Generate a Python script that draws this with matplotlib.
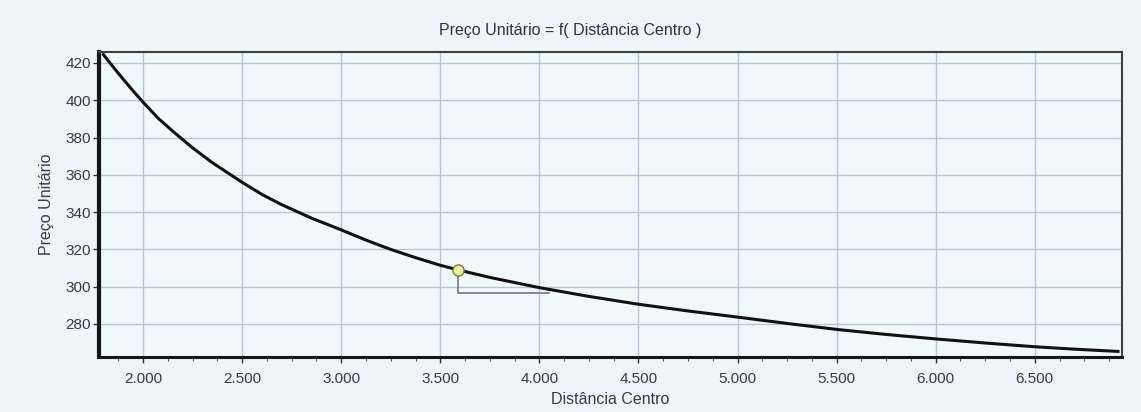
import matplotlib as mpl
import matplotlib.pyplot as plt
from matplotlib.ticker import FuncFormatter, MultipleLocator

# Valores
distancia = [1800, 1850, 1900, 1950, 2000, 2080, 2160, 2250, 2350, 2500,
             2600, 2700, 2850, 3000, 3125, 3250, 3375, 3500, 3590, 3750,
             4000, 4250, 4500, 4750, 5000, 5250, 5500, 5750, 6000, 6250,
             6500, 6700, 6920]
preco = [424.5, 417.8, 411.3, 405.0, 399.0, 390.0, 382.5, 374.5, 366.5, 356.0,
         349.5, 344.0, 336.8, 330.5, 325.0, 320.0, 315.6, 311.5, 309.0, 305.0,
         299.5, 294.8, 290.6, 287.0, 283.7, 280.3, 277.1, 274.4, 272.0, 269.8,
         267.8, 266.5, 265.3]

ponto_x = [3590]
ponto_y = [309.0]
cursor_x = [3590, 3590, 4050]
cursor_y = [309.0, 296.6, 296.6]

y_ticks = [280, 300, 320, 340, 360, 380, 400, 420]
x_ticks = [2000, 2500, 3000, 3500, 4000, 4500, 5000, 5500, 6000, 6500]

mpl.rcParams.update({
    'font.family': ['Liberation Sans', 'DejaVu Sans'],
    'font.size': 11,
})

fig = plt.figure(figsize=(11.41, 4.12), dpi=100)
fig.patch.set_facecolor('#eef5f6')
ax = fig.add_axes([0.0868, 0.1335, 0.8965, 0.7403])
ax.set_facecolor('#f1f8fa')

ax.plot(distancia, preco, color='#111111', lw=2.2, zorder=3)
ax.plot(cursor_x, cursor_y, color='#6a6a7a', lw=1.1, zorder=2)
ax.plot(ponto_x, ponto_y, marker='o', ms=8, mfc='#eeeea0', mec='#7a7a40',
        mew=1.0, ls='none', zorder=4)

ax.set_xlim(1778, 6940)
ax.set_ylim(262.3, 425.9)
ax.set_xticks(x_ticks)
ax.set_yticks(y_ticks)
ax.xaxis.set_minor_locator(MultipleLocator(125))
ax.xaxis.set_major_formatter(FuncFormatter(lambda v, p: f"{v:,.0f}".replace(',', '.')))

ax.grid(True, which='major', color='#b4c8d4', lw=1.0)
ax.set_axisbelow(True)

ax.tick_params(axis='both', which='major', length=4, width=1.0, color='#333333',
               labelcolor='#3a3a4a', labelsize=11)
ax.tick_params(axis='x', which='minor', length=3, width=0.8, color='#555555')
ax.tick_params(axis='x', pad=7)
ax.tick_params(axis='y', pad=2)

ax.spines['left'].set_linewidth(3.0)
ax.spines['bottom'].set_linewidth(2.2)
ax.spines['top'].set_linewidth(1.5)
ax.spines['right'].set_linewidth(1.5)
for s in ax.spines.values():
    s.set_color('#151515')
ax.spines['top'].set_color('#404040')
ax.spines['right'].set_color('#404040')

fig.text(0.5, 0.925, "Preço Unitário = f( Distância Centro )", ha='center', va='center',
         fontsize=11.5, color='#303048')
ax.set_xlabel("Distância Centro", fontsize=11.5, color='#3a3a4a', labelpad=4)
ax.set_ylabel("Preço Unitário", fontsize=11.5, color='#3a3a4a', labelpad=8)

plt.savefig('out.png', dpi=100, facecolor=fig.get_facecolor())
